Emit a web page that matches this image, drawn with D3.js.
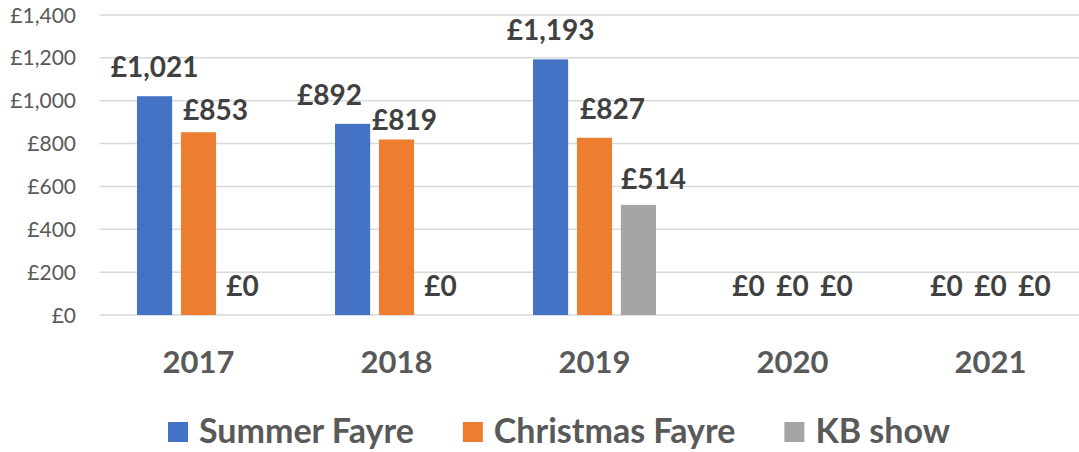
<!DOCTYPE html>
<html>
<head>
<meta charset="utf-8">
<script src="https://cdn.jsdelivr.net/npm/d3@7"></script>
<style>
  html, body { margin: 0; padding: 0; background: #fff; }
  svg { display: block; font-family: Lato, "Open Sans", sans-serif; }
</style>
</head>
<body>
<svg id="chart" width="1079" height="452"></svg>
<script>
// data
var years = ["2017", "2018", "2019", "2020", "2021"];
var seriesNames = ["Summer Fayre", "Christmas Fayre", "KB show"];
var summerFayre = [1021, 892, 1193, 0, 0];
var christmasFayre = [853, 819, 827, 0, 0];
var kbShow = [0, 0, 514, 0, 0];
var yTicks = [0, 200, 400, 600, 800, 1000, 1200, 1400];

var colors = ["#4472C4", "#ED7D31", "#A5A5A5"];
var seriesValues = [summerFayre, christmasFayre, kbShow];

// labels that were dragged a bit in the original chart (dx, dy)
var labelNudge = {
    "1-0": [17, 7],
    "0-1": [-23, 0],
    "1-1": [8, 9],
    "1-2": [18, 0],
    "2-2": [15, 3]
};

var svg = d3.select("#chart");

var x = d3.scaleBand().domain(years).range([99.5, 1089.5]);
var xSub = d3.scaleBand().domain(seriesNames).range([37.5, 160.5]).paddingInner(0.2);
var y = d3.scaleLinear().domain([0, 1400]).range([315, 15]);

// gridlines
svg.append("g")
    .selectAll("line")
    .data(yTicks)
    .enter().append("line")
    .attr("x1", 99.5)
    .attr("x2", 1089.5)
    .attr("y1", d => y(d))
    .attr("y2", d => y(d))
    .attr("stroke", "#d9d9d9")
    .attr("stroke-width", 1.5);

// y tick labels
var fmt = d3.format(",");
svg.append("g")
    .selectAll("text")
    .data(yTicks)
    .enter().append("text")
    .attr("x", 76)
    .attr("y", d => y(d))
    .attr("dy", "0.36em")
    .attr("text-anchor", "end")
    .attr("font-size", 21)
    .attr("fill", "#595959")
    .text(d => "£" + fmt(d));

// bars
var rows = [];
seriesValues.forEach((vals, s) => {
    vals.forEach((v, i) => rows.push({ s: s, i: i, v: v }));
});

var groups = svg.append("g");
groups.selectAll("rect")
    .data(rows)
    .enter().append("rect")
    .attr("x", d => x(years[d.i]) + xSub(seriesNames[d.s]))
    .attr("width", xSub.bandwidth())
    .attr("y", d => y(d.v))
    .attr("height", d => y(0) - y(d.v))
    .attr("fill", d => colors[d.s]);

// value labels
groups.selectAll("text")
    .data(rows)
    .enter().append("text")
    .attr("x", d => {
        var n = labelNudge[d.s + "-" + d.i];
        return x(years[d.i]) + xSub(seriesNames[d.s]) + xSub.bandwidth() / 2 + (n ? n[0] : 0);
    })
    .attr("y", d => {
        var n = labelNudge[d.s + "-" + d.i];
        return y(d.v) - 19 + (n ? n[1] : 0);
    })
    .attr("text-anchor", "middle")
    .attr("font-size", 28)
    .attr("font-weight", "bold")
    .attr("fill", "#404040")
    .text(d => "£" + fmt(d.v));

// category labels
svg.append("g")
    .selectAll("text")
    .data(years)
    .enter().append("text")
    .attr("x", d => x(d) + x.bandwidth() / 2)
    .attr("y", 373)
    .attr("text-anchor", "middle")
    .attr("font-size", 31)
    .attr("font-weight", "bold")
    .attr("fill", "#595959")
    .text(d => d);

// legend
var legend = svg.append("g");
var lx = 168;
seriesNames.forEach((name, s) => {
    legend.append("rect")
        .attr("x", lx)
        .attr("y", 422)
        .attr("width", 20)
        .attr("height", 20)
        .attr("fill", colors[s]);
    var t = legend.append("text")
        .attr("x", lx + 31)
        .attr("y", 443)
        .attr("font-size", 34)
        .attr("font-weight", "bold")
        .attr("fill", "#595959")
        .text(name);
    lx = lx + 31 + t.node().getComputedTextLength() + 49;
});
</script>
</body>
</html>
